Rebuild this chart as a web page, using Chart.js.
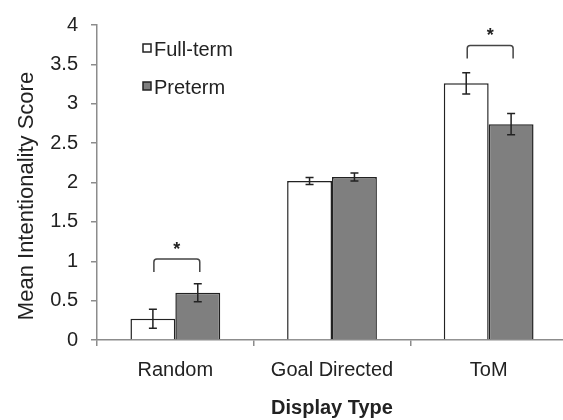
<!DOCTYPE html>
<html><head><meta charset="utf-8">
<script src="https://cdn.jsdelivr.net/npm/chart.js@4/dist/chart.umd.min.js"></script>
<style>html,body{margin:0;padding:0;overflow:hidden;background:#fff}#wrap{width:567px;height:420px;position:relative}</style>
</head><body><div id="wrap"><canvas id="c" width="567" height="420"></canvas></div>
<script>
const categories = ['Random', 'Goal Directed', 'ToM'];
const seriesNames = ['Full-term', 'Preterm'];
const fullTerm = [0.27, 2.02, 3.26];
const preterm = [0.60, 2.07, 2.74];
const fullTermErr = [0.12, 0.045, 0.135];
const pretermErr = [0.115, 0.05, 0.135];
const yTicks = [0, 0.5, 1, 1.5, 2, 2.5, 3, 3.5, 4];
const sigBracketCategories = [0, 2];
const sigBracketLevels = [1.03, 3.74];
const sigLabels = ['*', '*'];
const xTitle = 'Display Type';
const yTitle = 'Mean Intentionality Score';

const FONT = "'Liberation Sans', Arial, sans-serif";
const INK = '#222';
const AXIS = '#8c8c8c';

const errorBars = {
  id: 'errorBars',
  afterDatasetsDraw(chart) {
    const ctx = chart.ctx, y = chart.scales.y;
    const errs = [fullTermErr, pretermErr];
    ctx.save();
    ctx.strokeStyle = INK; ctx.lineWidth = 1.5;
    chart.data.datasets.forEach((ds, di) => {
      chart.getDatasetMeta(di).data.forEach((bar, i) => {
        const v = ds.data[i], e = errs[di][i];
        const t = y.getPixelForValue(v + e), b = y.getPixelForValue(v - e);
        ctx.beginPath();
        ctx.moveTo(bar.x, t); ctx.lineTo(bar.x, b);
        ctx.moveTo(bar.x - 4, t); ctx.lineTo(bar.x + 4, t);
        ctx.moveTo(bar.x - 4, b); ctx.lineTo(bar.x + 4, b);
        ctx.stroke();
      });
    });
    // significance brackets
    ctx.strokeStyle = '#444'; ctx.lineWidth = 1.5; ctx.lineJoin = 'round';
    sigBracketCategories.forEach((ci, k) => {
      const x1 = chart.getDatasetMeta(0).data[ci].x + 1;
      const x2 = chart.getDatasetMeta(1).data[ci].x + 2;
      const top = y.getPixelForValue(sigBracketLevels[k]);
      const drop = 13, r = 3;
      ctx.beginPath();
      ctx.moveTo(x1, top + drop);
      ctx.lineTo(x1, top + r);
      ctx.quadraticCurveTo(x1, top, x1 + r, top);
      ctx.lineTo(x2 - r, top);
      ctx.quadraticCurveTo(x2, top, x2, top + r);
      ctx.lineTo(x2, top + drop);
      ctx.stroke();
      ctx.fillStyle = INK;
      ctx.font = 'bold 18px ' + FONT;
      ctx.textAlign = 'center'; ctx.textBaseline = 'alphabetic';
      ctx.fillText(sigLabels[k], (x1 + x2) / 2, top - 4);
    });
    ctx.restore();
  }
};

const decorations = {
  id: 'decorations',
  afterDraw(chart) {
    const ctx = chart.ctx;
    ctx.save();
    // y title
    ctx.translate(27, 196);
    ctx.rotate(-Math.PI / 2);
    ctx.fillStyle = INK;
    ctx.font = '22px ' + FONT;
    ctx.textAlign = 'center'; ctx.textBaseline = 'middle';
    ctx.fillText(yTitle, 0, 0);
    ctx.restore();
    // legend
    ctx.save();
    const rows = [{y: 44, name: seriesNames[0], fill: '#ffffff'}, {y: 82, name: seriesNames[1], fill: '#7f7f7f'}];
    rows.forEach(r => {
      ctx.fillStyle = r.fill; ctx.strokeStyle = INK; ctx.lineWidth = 1.5;
      ctx.fillRect(143, r.y, 8, 8); ctx.strokeRect(143, r.y, 8, 8);
      ctx.fillStyle = INK; ctx.font = '20px ' + FONT;
      ctx.textAlign = 'left'; ctx.textBaseline = 'alphabetic';
      ctx.fillText(r.name, 154, r.y + 12);
    });
    ctx.restore();
  }
};

new Chart(document.getElementById('c'), {
  type: 'bar',
  data: {
    labels: categories,
    datasets: [
      { label: seriesNames[0], data: fullTerm, backgroundColor: '#ffffff', borderColor: INK, borderWidth: 1.5 },
      { label: seriesNames[1], data: preterm, backgroundColor: '#7f7f7f', borderColor: INK, borderWidth: 1.5 }
    ]
  },
  options: {
    responsive: false, animation: false, devicePixelRatio: 1,
    categoryPercentage: 0.573, barPercentage: 1,
    layout: { padding: { left: 0, right: 0, top: 19, bottom: 0 } },
    plugins: { legend: { display: false }, tooltip: { enabled: false } },
    scales: {
      x: {
        offset: true,
        grid: { display: true, drawOnChartArea: false, drawTicks: true, tickLength: 6, color: AXIS, lineWidth: 1.5, offset: true },
        border: { display: true, color: AXIS, width: 1.5 },
        ticks: { font: { family: FONT, size: 20 }, color: INK, padding: 12 },
        title: { display: true, text: xTitle, font: { family: FONT, size: 20, weight: 'bold' }, color: INK, padding: { top: 4, bottom: 0 } },
        afterFit(s) { s.height = 80; }
      },
      y: {
        min: 0, max: 4,
        afterBuildTicks(s) { s.ticks = yTicks.map(v => ({ value: v })); },
        grid: { display: true, drawOnChartArea: false, drawTicks: true, tickLength: 6, color: AXIS, lineWidth: 1.5 },
        border: { display: true, color: AXIS, width: 1.5 },
        ticks: { font: { family: FONT, size: 20 }, color: INK, padding: 13, callback: v => String(v) },
        afterFit(s) { s.width = 97; }
      }
    }
  },
  plugins: [errorBars, decorations]
});
</script>
</body></html>
